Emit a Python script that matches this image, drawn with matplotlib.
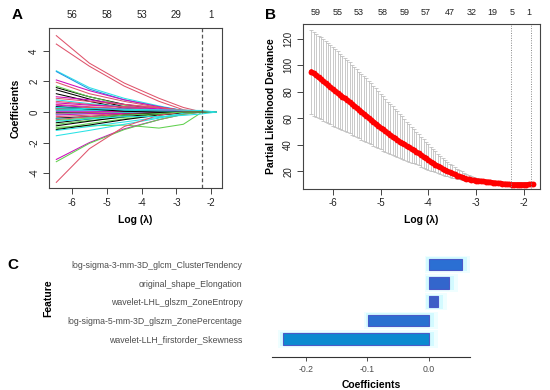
import matplotlib.pyplot as plt
import numpy as np

plt.rcParams['font.family'] = ['Liberation Sans', 'DejaVu Sans']
plt.rcParams['axes.unicode_minus'] = False

# ---------------- data: panel A (lasso coefficient paths)
path_x = [-6.45, -5.5, -4.5, -3.5, -2.8, -2.26, -1.85]
coef_paths = [
    ('red',     [5.0, 3.2, 1.9, 0.9, 0.3, 0, 0]),
    ('red',     [4.45, 3.0, 1.7, 0.7, 0.15, 0, 0]),
    ('cyan',    [2.7, 1.6, 0.9, 0.4, 0.1, 0, 0]),
    ('blue',    [2.65, 1.5, 0.8, 0.35, 0.1, 0, 0]),
    ('magenta', [2.1, 1.4, 0.8, 0.35, 0.08, 0, 0]),
    ('red',     [1.95, 1.2, 0.7, 0.3, 0.05, 0, 0]),
    ('black',   [1.6, 1.0, 0.5, 0.15, 0.02, 0, 0]),
    ('green',   [1.7, 1.0, 0.45, 0.1, 0, 0, 0]),
    ('black',   [1.45, 0.85, 0.35, 0.1, 0, 0, 0]),
    ('black',   [1.2, 0.7, 0.25, 0.05, 0, 0, 0]),
    ('magenta', [1.0, 0.8, 0.5, 0.25, 0.05, 0, 0]),
    ('red',     [0.9, 0.7, 0.5, 0.3, 0.1, 0, 0]),
    ('cyan',    [0.8, 0.55, 0.35, 0.15, 0.03, 0, 0]),
    ('red',     [0.7, 0.5, 0.3, 0.12, 0.02, 0, 0]),
    ('magenta', [0.6, 0.45, 0.35, 0.2, 0.05, 0, 0]),
    ('red',     [0.5, 0.35, 0.2, 0.08, 0, 0, 0]),
    ('cyan',    [0.35, 0.3, 0.2, 0.1, 0.02, 0, 0]),
    ('cyan',    [0.3, 0.25, 0.15, 0.05, 0, 0, 0]),
    ('blue',    [0.25, 0.2, 0.1, 0.03, 0, 0, 0]),
    ('black',   [0.2, 0.15, 0.1, 0.05, 0, 0, 0]),
    ('green',   [0.15, 0.1, 0.05, 0, 0, 0, 0]),
    ('cyan',    [0.1, 0.1, 0.08, 0.04, 0, 0, 0]),
    ('magenta', [0.05, 0.05, 0.03, 0, 0, 0, 0]),
    ('black',   [-0.05, -0.05, -0.05, -0.02, 0, 0, 0]),
    ('red',     [-0.1, -0.05, 0, 0.02, 0, 0, 0]),
    ('cyan',    [-0.15, -0.1, -0.05, 0, 0, 0, 0]),
    ('red',     [-0.3, -0.2, -0.1, -0.05, 0, 0, 0]),
    ('magenta', [-0.2, -0.1, -0.1, -0.05, 0, 0, 0]),
    ('black',   [-0.4, -0.3, -0.15, -0.05, 0, 0, 0]),
    ('cyan',    [-0.45, -0.35, -0.2, -0.08, -0.02, 0, 0]),
    ('red',     [-0.5, -0.3, -0.15, -0.05, 0, 0, 0]),
    ('black',   [-0.7, -0.45, -0.2, -0.05, 0, 0, 0]),
    ('green',   [-0.8, -0.55, -0.35, -0.15, -0.02, 0, 0]),
    ('black',   [-0.9, -0.6, -0.3, -0.1, 0, 0, 0]),
    ('green',   [-1.0, -0.9, -0.85, -1.05, -0.8, 0, 0]),
    ('green',   [-1.1, -0.75, -0.45, -0.2, -0.05, 0, 0]),
    ('black',   [-1.15, -0.85, -0.5, -0.2, -0.05, 0, 0]),
    ('cyan',    [-1.55, -1.2, -0.8, -0.4, -0.1, 0, 0]),
    ('cyan',    [-1.2, -0.95, -0.65, -0.35, -0.1, 0, 0]),
    ('magenta', [-3.1, -2.0, -1.1, -0.5, -0.15, 0, 0]),
    ('green',   [-3.25, -2.05, -1.15, -0.5, -0.15, 0, 0]),
    ('red',     [-4.6, -2.4, -0.95, -0.2, 0, 0, 0]),
    ('cyan',    [0.2, 0.15, 0.1, 0.05, 0.02, 0, 0]),
    ('magenta', [0.45, 0.3, 0.2, 0.15, 0.05, 0, 0]),
    ('red',     [0.25, 0.3, 0.35, 0.3, 0.1, 0, 0]),
    ('black',   [0.35, 0.2, 0.05, 0, 0, 0, 0]),
    ('green',   [-0.55, -0.4, -0.2, -0.1, 0, 0, 0]),
    ('cyan',    [-0.6, -0.45, -0.3, -0.3, -0.22, -0.12, 0]),
    ('cyan',    [0.3, 0.22, 0.18, 0.15, 0.12, 0.1, 0]),
]
top_a_pos = [-6, -5, -4, -3, -2]
top_a_labels = ['56', '58', '53', '29', '1']

# ---------------- data: panel B (cross-validation curve)
log_lambda = [
    -6.45, -6.40, -6.35, -6.30, -6.25, -6.20, -6.15, -6.10, -6.05, -6.00,
    -5.95, -5.90, -5.85, -5.80, -5.75, -5.70, -5.65, -5.60, -5.55, -5.50,
    -5.45, -5.40, -5.35, -5.30, -5.25, -5.20, -5.15, -5.10, -5.05, -5.00,
    -4.95, -4.90, -4.85, -4.80, -4.75, -4.70, -4.65, -4.60, -4.55, -4.50,
    -4.45, -4.40, -4.35, -4.30, -4.25, -4.20, -4.15, -4.10, -4.05, -4.00,
    -3.95, -3.90, -3.85, -3.80, -3.75, -3.70, -3.65, -3.60, -3.55, -3.50,
    -3.45, -3.40, -3.35, -3.30, -3.25, -3.20, -3.15, -3.10, -3.05, -3.00,
    -2.95, -2.90, -2.85, -2.80, -2.75, -2.70, -2.65, -2.60, -2.55, -2.50,
    -2.45, -2.40, -2.35, -2.30, -2.25, -2.20, -2.15, -2.10, -2.05, -2.00,
    -1.95, -1.90, -1.85, -1.80]
cv_mean = [
    95.4, 93.9, 92.4, 90.9, 89.5, 88.0, 86.5, 85.0, 83.5, 82.0,
    80.6, 79.2, 77.9, 76.5, 75.1, 73.8, 72.4, 71.0, 69.5, 68.0,
    66.5, 65.0, 63.5, 62.0, 60.5, 59.0, 57.5, 56.0, 54.5, 53.0,
    51.6, 50.2, 48.9, 47.5, 46.2, 45.0, 43.7, 42.5, 41.4, 40.3,
    39.1, 38.0, 36.9, 35.8, 34.6, 33.5, 32.2, 31.0, 29.7, 28.5,
    27.4, 26.2, 25.1, 24.0, 23.0, 22.0, 21.0, 20.0, 19.2, 18.4,
    17.6, 16.8, 16.2, 15.6, 15.0, 14.4, 14.0, 13.6, 13.3, 13.0,
    12.8, 12.6, 12.4, 12.2, 12.0, 11.8, 11.5, 11.3, 11.1, 10.9,
    10.7, 10.5, 10.3, 10.2, 10.0, 10.0, 10.0, 10.0, 10.0, 10.0,
    10.0, 10.1, 10.1, 10.1]
cv_upper = [
    126.8, 125.4, 124.0, 122.5, 121.1, 119.7, 118.3, 116.9, 115.4, 114.0,
    112.4, 110.7, 109.0, 107.3, 105.6, 104.0, 102.3, 100.6, 98.9, 97.1,
    95.4, 93.6, 91.9, 90.2, 88.4, 86.5, 84.6, 82.6, 80.6, 78.6,
    76.6, 74.6, 72.7, 70.8, 69.0, 67.2, 65.3, 63.4, 61.5, 59.6,
    57.6, 55.7, 53.8, 51.8, 49.9, 48.0, 46.1, 44.1, 42.2, 40.3,
    38.5, 36.8, 35.1, 33.4, 31.7, 30.1, 28.6, 27.2, 25.8, 24.5,
    23.2, 22.0, 20.9, 19.9, 18.9, 18.0, 17.2, 16.5, 15.8, 15.2,
    14.7, 14.3, 13.9, 13.6, 13.3, 13.1, 12.9, 12.7, 12.5, 12.4,
    12.2, 12.1, 12.0, 11.9, 11.8, 11.8, 11.8, 11.8, 11.8, 11.8,
    11.8, 11.8, 11.8, 11.8]
cv_lower = [
    63.0, 62.1, 61.1, 60.2, 59.2, 58.3, 57.3, 56.4, 55.4, 54.5,
    53.6, 52.8, 52.0, 51.1, 50.3, 49.4, 48.6, 47.7, 46.8, 45.9,
    45.0, 44.0, 43.1, 42.2, 41.3, 40.3, 39.4, 38.5, 37.5, 36.6,
    35.7, 34.9, 34.1, 33.3, 32.6, 31.8, 31.0, 30.2, 29.5, 28.8,
    28.1, 27.4, 26.6, 25.9, 25.2, 24.4, 23.6, 22.8, 22.0, 21.3,
    20.6, 19.9, 19.3, 18.6, 18.0, 17.4, 16.8, 16.3, 15.8, 15.3,
    14.8, 14.4, 14.0, 13.6, 13.3, 13.0, 12.7, 12.5, 12.2, 12.0,
    11.8, 11.6, 11.4, 11.2, 11.0, 10.8, 10.5, 10.3, 10.1, 9.9,
    9.7, 9.5, 9.3, 9.1, 9.0, 9.0, 9.0, 9.0, 9.0, 9.0,
    9.0, 9.0, 9.0, 9.0]
top_b_pos = [-6.35, -5.9, -5.45, -4.95, -4.5, -4.05, -3.55, -3.1, -2.65, -2.25, -1.9]
top_b_labels = ['59', '55', '53', '58', '59', '57', '47', '32', '19', '5', '1']
log_lambda_min = -2.26
log_lambda_1se = -1.84

# ---------------- data: panel C (selected features)
features = ['wavelet-LLH_firstorder_Skewness',
            'log-sigma-5-mm-3D_glszm_ZonePercentage',
            'wavelet-LHL_glszm_ZoneEntropy',
            'original_shape_Elongation',
            'log-sigma-3-mm-3D_glcm_ClusterTendency']
feature_coefs = [-0.238, -0.099, 0.015, 0.033, 0.054]

palette = {'black': '#000000', 'red': '#DF536B', 'green': '#61D04F',
           'blue': '#2297E6', 'cyan': '#28E2E5', 'magenta': '#CD0BBC'}

W, H = 550, 390


def box(l, t, r, b):
    return [l / W, 1 - b / H, (r - l) / W, (b - t) / H]


def r_style(ax, size):
    for s in ax.spines.values():
        s.set_color('#444444')
        s.set_linewidth(0.8)
    ax.tick_params(direction='out', length=4, width=0.7, labelsize=size,
                   color='#444444', labelcolor='#222222', pad=3)
    plt.setp(ax.get_yticklabels(), rotation=90, va='center')


fig = plt.figure(figsize=(5.5, 3.9), dpi=100)

# ---- A
axA = fig.add_axes(box(49, 28, 222, 188))
for cname, vals in coef_paths:
    axA.plot(path_x, vals, color=palette[cname], lw=0.75)
axA.axvline(log_lambda_min, color='#555555', ls=(0, (3, 2)), lw=0.9)
axA.set_xlim(-6.66, -1.69)
axA.set_ylim(-4.97, 5.5)
axA.set_xticks([-6, -5, -4, -3, -2])
axA.set_yticks([-4, -2, 0, 2, 4])
r_style(axA, 7)
topA = axA.secondary_xaxis('top')
topA.set_xticks(top_a_pos, top_a_labels)
topA.tick_params(length=0, labelsize=7, pad=6, labelcolor='#222222')
topA.spines['top'].set_visible(False)
axA.set_xlabel('Log (λ)', fontsize=7.5, fontweight='bold', labelpad=5)
axA.set_ylabel('Coefficients', fontsize=7.5, fontweight='bold', labelpad=6)

# ---- B
axB = fig.add_axes(box(303, 24, 540, 188.5))
mean = np.array(cv_mean)
axB.errorbar(log_lambda, mean,
             yerr=[mean - np.array(cv_lower), np.array(cv_upper) - mean],
             fmt='none', ecolor='#BBBBBB', elinewidth=0.55, capsize=1.2, capthick=0.55)
axB.plot(log_lambda, mean, color='red', lw=3.4, marker='o', ms=4.2,
         markeredgewidth=0, solid_capstyle='round')
axB.axvline(log_lambda_min, color='#888888', ls=(0, (1, 1.5)), lw=0.7)
axB.axvline(log_lambda_1se, color='#888888', ls=(0, (1, 1.5)), lw=0.7)
axB.set_xlim(-6.625, -1.66)
axB.set_ylim(7, 131.3)
axB.set_xticks([-6, -5, -4, -3, -2])
axB.set_yticks([20, 40, 60, 80, 100, 120])
r_style(axB, 7)
topB = axB.secondary_xaxis('top')
topB.set_xticks(top_b_pos, top_b_labels)
topB.tick_params(length=0, labelsize=6.5, pad=5, labelcolor='#222222')
topB.spines['top'].set_visible(False)
axB.set_xlabel('Log (λ)', fontsize=7.5, fontweight='bold', labelpad=5)
axB.set_ylabel('Partial Likelihood Deviance', fontsize=7.5, fontweight='bold', labelpad=5)

# ---- C
axC = fig.add_axes(box(271.7, 250, 470, 356.7))
ypos = np.arange(1, len(features) + 1)
coefs = np.array(feature_coefs)
lo = np.minimum(coefs, 0)
hi = np.maximum(coefs, 0)
axC.barh(ypos, hi - lo + 0.022, left=lo - 0.007, height=0.92, color='#EFFEFF', zorder=1)
axC.barh(ypos, hi - lo + 0.012, left=lo - 0.004, height=0.75, color='#D3FAFF', zorder=2)
bar_colors = ['#0A8AD0', '#2A70D0', '#3C5FC6', '#3366CC', '#2B6FD3']
axC.barh(ypos, coefs, height=0.6, color=bar_colors, edgecolor='#4A5AC8',
         linewidth=0.8, zorder=3)
axC.set_xlim(-0.256, 0.067)
axC.set_ylim(0.05, 5.77)
axC.set_yticks(ypos, features)
axC.set_xticks([-0.2, -0.1, 0.0], ['-0.2', '-0.1', '0.0'])
for s in ['left', 'top', 'right']:
    axC.spines[s].set_visible(False)
axC.spines['bottom'].set_color('#333333')
axC.spines['bottom'].set_linewidth(0.8)
axC.tick_params(axis='y', length=0, pad=21, labelsize=6.3, labelcolor='#4D4D4D')
axC.tick_params(axis='x', length=3, width=0.6, color='#333333', pad=3,
                labelsize=6.3, labelcolor='#4D4D4D')
axC.set_xlabel('Coefficients', fontsize=7.5, fontweight='bold', labelpad=4)
fig.text(48 / W, 1 - 298 / H, 'Feature', rotation=90, fontsize=7.5,
         fontweight='bold', ha='center', va='center')

# panel letters
for letter, (lx, ly) in {'A': (17, 15), 'B': (271, 15), 'C': (13, 265)}.items():
    fig.text(lx / W, 1 - ly / H, letter, fontsize=11, fontweight='bold',
             ha='center', va='center')

fig.savefig('out.png', dpi=100)
